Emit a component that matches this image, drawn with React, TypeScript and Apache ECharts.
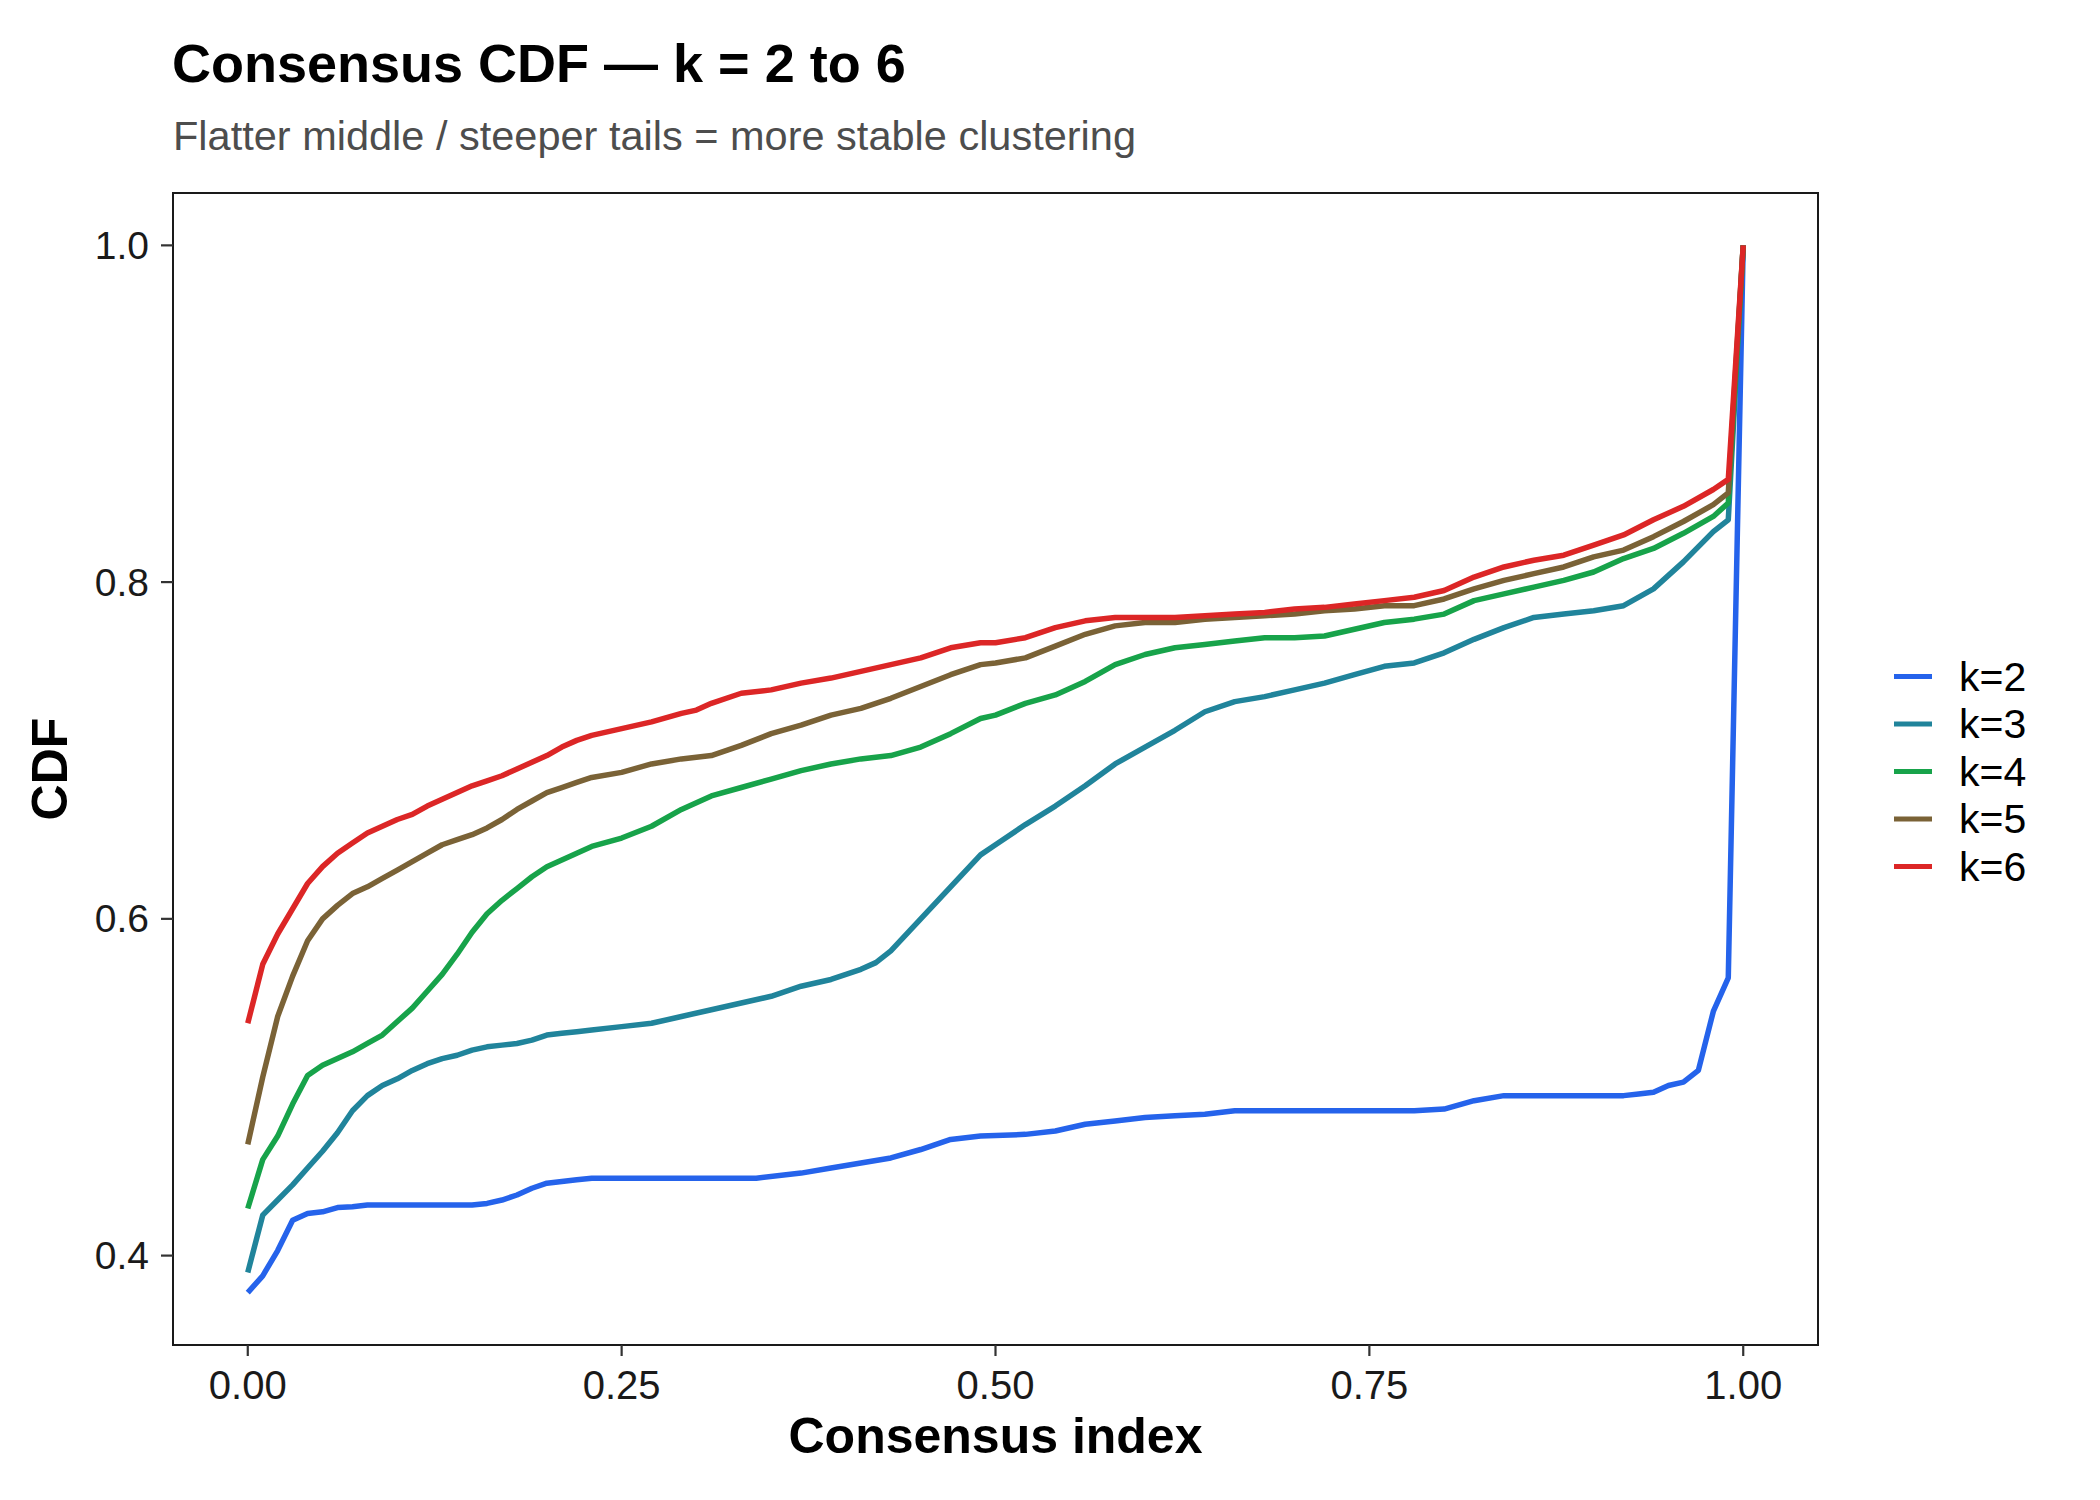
import React, { useEffect, useRef } from "react";
import * as echarts from "echarts";

// Consensus CDF values: [consensus index, CDF]
const k2: [number, number][] = [
  [0, 0.378], [0.01, 0.388], [0.02, 0.403], [0.03, 0.421], [0.04, 0.425], [0.05, 0.426],
  [0.06, 0.4285], [0.07, 0.429], [0.08, 0.43], [0.1, 0.43], [0.12, 0.43], [0.14, 0.43],
  [0.15, 0.43], [0.16, 0.431], [0.17, 0.433], [0.18, 0.436], [0.19, 0.44], [0.2, 0.443],
  [0.21, 0.444], [0.22, 0.445], [0.23, 0.446], [0.25, 0.446], [0.3, 0.446], [0.34, 0.446],
  [0.37, 0.449], [0.39, 0.452], [0.41, 0.455], [0.43, 0.458], [0.45, 0.463], [0.47, 0.469],
  [0.49, 0.471], [0.52, 0.472], [0.54, 0.474], [0.56, 0.478], [0.58, 0.48], [0.6, 0.482],
  [0.62, 0.483], [0.64, 0.484], [0.66, 0.486], [0.7, 0.486], [0.75, 0.486], [0.78, 0.486],
  [0.8, 0.487], [0.82, 0.492], [0.84, 0.495], [0.86, 0.495], [0.9, 0.495], [0.92, 0.495],
  [0.93, 0.496], [0.94, 0.497], [0.95, 0.501], [0.96, 0.503], [0.97, 0.51], [0.98, 0.545],
  [0.99, 0.565], [1.0, 1.0],
];

const k3: [number, number][] = [
  [0, 0.39], [0.01, 0.424], [0.02, 0.433], [0.03, 0.442], [0.04, 0.452], [0.05, 0.462],
  [0.06, 0.473], [0.07, 0.486], [0.08, 0.495], [0.09, 0.501], [0.1, 0.505], [0.11, 0.51],
  [0.12, 0.514], [0.13, 0.517], [0.14, 0.519], [0.15, 0.522], [0.16, 0.524], [0.17, 0.525],
  [0.18, 0.526], [0.19, 0.528], [0.2, 0.531], [0.21, 0.532], [0.22, 0.533], [0.23, 0.534],
  [0.25, 0.536], [0.27, 0.538], [0.29, 0.542], [0.31, 0.546], [0.33, 0.55], [0.35, 0.554],
  [0.37, 0.56], [0.39, 0.564], [0.41, 0.57], [0.42, 0.574], [0.43, 0.581], [0.45, 0.6],
  [0.47, 0.619], [0.49, 0.638], [0.5, 0.644], [0.52, 0.656], [0.54, 0.667], [0.56, 0.679],
  [0.58, 0.692], [0.6, 0.702], [0.62, 0.712], [0.64, 0.723], [0.66, 0.729], [0.68, 0.732],
  [0.7, 0.736], [0.72, 0.74], [0.74, 0.745], [0.76, 0.75], [0.78, 0.752], [0.8, 0.758],
  [0.82, 0.766], [0.84, 0.773], [0.86, 0.779], [0.88, 0.781], [0.9, 0.783], [0.92, 0.786],
  [0.94, 0.796], [0.96, 0.812], [0.98, 0.83], [0.99, 0.837], [1.0, 1.0],
];

const k4: [number, number][] = [
  [0, 0.428], [0.01, 0.457], [0.02, 0.471], [0.03, 0.49], [0.04, 0.507], [0.05, 0.513],
  [0.06, 0.517], [0.07, 0.521], [0.08, 0.526], [0.09, 0.531], [0.1, 0.539], [0.11, 0.547],
  [0.12, 0.557], [0.13, 0.567], [0.14, 0.579], [0.15, 0.592], [0.16, 0.603], [0.17, 0.611],
  [0.18, 0.618], [0.19, 0.625], [0.2, 0.631], [0.21, 0.635], [0.22, 0.639], [0.23, 0.643],
  [0.25, 0.648], [0.27, 0.655], [0.29, 0.665], [0.31, 0.673], [0.33, 0.678], [0.35, 0.683],
  [0.37, 0.688], [0.39, 0.692], [0.41, 0.695], [0.43, 0.697], [0.45, 0.702], [0.47, 0.71],
  [0.49, 0.719], [0.5, 0.721], [0.52, 0.728], [0.54, 0.733], [0.56, 0.741], [0.58, 0.751],
  [0.6, 0.757], [0.62, 0.761], [0.64, 0.763], [0.66, 0.765], [0.68, 0.767], [0.7, 0.767],
  [0.72, 0.768], [0.74, 0.772], [0.76, 0.776], [0.78, 0.778], [0.8, 0.781], [0.82, 0.789],
  [0.84, 0.793], [0.86, 0.797], [0.88, 0.801], [0.9, 0.806], [0.92, 0.814], [0.94, 0.82],
  [0.96, 0.829], [0.98, 0.839], [0.99, 0.847], [1.0, 1.0],
];

const k5: [number, number][] = [
  [0, 0.466], [0.01, 0.506], [0.02, 0.542], [0.03, 0.566], [0.04, 0.587], [0.05, 0.6],
  [0.06, 0.608], [0.07, 0.615], [0.08, 0.619], [0.09, 0.624], [0.1, 0.629], [0.11, 0.634],
  [0.12, 0.639], [0.13, 0.644], [0.14, 0.647], [0.15, 0.65], [0.16, 0.654], [0.17, 0.659],
  [0.18, 0.665], [0.19, 0.67], [0.2, 0.675], [0.21, 0.678], [0.22, 0.681], [0.23, 0.684],
  [0.25, 0.687], [0.27, 0.692], [0.29, 0.695], [0.31, 0.697], [0.33, 0.703], [0.35, 0.71],
  [0.37, 0.715], [0.39, 0.721], [0.41, 0.725], [0.43, 0.731], [0.45, 0.738], [0.47, 0.745],
  [0.49, 0.751], [0.5, 0.752], [0.52, 0.755], [0.54, 0.762], [0.56, 0.769], [0.58, 0.774],
  [0.6, 0.776], [0.62, 0.776], [0.64, 0.778], [0.66, 0.779], [0.68, 0.78], [0.7, 0.781],
  [0.72, 0.783], [0.74, 0.784], [0.76, 0.786], [0.78, 0.786], [0.8, 0.79], [0.82, 0.796],
  [0.84, 0.801], [0.86, 0.805], [0.88, 0.809], [0.9, 0.815], [0.92, 0.819], [0.94, 0.827],
  [0.96, 0.836], [0.98, 0.846], [0.99, 0.853], [1.0, 1.0],
];

const k6: [number, number][] = [
  [0, 0.538], [0.01, 0.573], [0.02, 0.591], [0.03, 0.606], [0.04, 0.621], [0.05, 0.631],
  [0.06, 0.639], [0.07, 0.645], [0.08, 0.651], [0.09, 0.655], [0.1, 0.659], [0.11, 0.662],
  [0.12, 0.667], [0.13, 0.671], [0.14, 0.675], [0.15, 0.679], [0.16, 0.682], [0.17, 0.685],
  [0.18, 0.689], [0.19, 0.693], [0.2, 0.697], [0.21, 0.702], [0.22, 0.706], [0.23, 0.709],
  [0.25, 0.713], [0.27, 0.717], [0.29, 0.722], [0.3, 0.724], [0.31, 0.728], [0.33, 0.734],
  [0.35, 0.736], [0.37, 0.74], [0.39, 0.743], [0.41, 0.747], [0.43, 0.751], [0.45, 0.755],
  [0.47, 0.761], [0.49, 0.764], [0.5, 0.764], [0.52, 0.767], [0.54, 0.773], [0.56, 0.777],
  [0.58, 0.779], [0.6, 0.779], [0.62, 0.779], [0.64, 0.78], [0.66, 0.781], [0.68, 0.782],
  [0.7, 0.784], [0.72, 0.785], [0.74, 0.787], [0.76, 0.789], [0.78, 0.791], [0.8, 0.795],
  [0.82, 0.803], [0.84, 0.809], [0.86, 0.813], [0.88, 0.816], [0.9, 0.822], [0.92, 0.828],
  [0.94, 0.837], [0.96, 0.845], [0.98, 0.855], [0.99, 0.861], [1.0, 1.0],
];

const seriesNames = ["k=2", "k=3", "k=4", "k=5", "k=6"];
const seriesData = [k2, k3, k4, k5, k6];
const seriesColors = ["#2563EB", "#20849B", "#17A34A", "#7A6236", "#DC2626"];
const xTicks = [0, 0.25, 0.5, 0.75, 1.0];
const yTicks = [0.4, 0.6, 0.8, 1.0];

const X_MIN = -0.05;
const X_MAX = 1.05;
const Y_MIN = 0.3469;
const Y_MAX = 1.0311;

const FONT = "'Liberation Sans', Arial, Helvetica, sans-serif";
const TICK_LEN = 12;
const TICK_COLOR = "#333333";

export default function App() {
  const ref = useRef<HTMLDivElement>(null);

  useEffect(() => {
    document.body.style.margin = "0";
    if (!ref.current) return;
    const chart = echarts.init(ref.current, undefined, { renderer: "svg" });

    chart.setOption({
      animation: false,
      backgroundColor: "#ffffff",
      textStyle: { fontFamily: FONT },
      title: [
        {
          text: "Consensus CDF — k = 2 to 6",
          left: 167,
          top: 31,
          textStyle: { fontFamily: FONT, fontSize: 54, fontWeight: "bold", color: "#000000" },
        },
        {
          text: "Flatter middle / steeper tails = more stable clustering",
          left: 168,
          top: 109,
          textStyle: { fontFamily: FONT, fontSize: 41.5, fontWeight: "normal", color: "#4D4D4D" },
        },
      ],
      legend: {
        orient: "vertical",
        left: 1889,
        top: 651,
        icon: "rect",
        itemWidth: 38,
        itemHeight: 5,
        itemGap: 6.5,
        data: seriesNames,
        textStyle: {
          fontFamily: FONT,
          fontSize: 41,
          lineHeight: 40,
          color: "#000000",
          padding: [0, 0, 0, 22],
        },
      },
      grid: {
        left: 173,
        right: 282,
        top: 193,
        bottom: 155,
        show: true,
        borderColor: "#1a1a1a",
        borderWidth: 2,
        backgroundColor: "transparent",
      },
      xAxis: {
        type: "value",
        min: X_MIN,
        max: X_MAX,
        name: "Consensus index",
        nameLocation: "middle",
        nameGap: 66,
        nameTextStyle: { fontFamily: FONT, fontSize: 50, fontWeight: "bold", color: "#000000" },
        axisLine: { show: true, onZero: false, lineStyle: { color: "#1a1a1a", width: 2 } },
        splitLine: { show: false },
        axisTick: { show: false },
        axisLabel: {
          customValues: xTicks,
          margin: 20,
          fontFamily: FONT,
          fontSize: 40,
          color: "#1a1a1a",
          formatter: (v: number) => v.toFixed(2),
        },
      },
      yAxis: {
        type: "value",
        min: Y_MIN,
        max: Y_MAX,
        name: "CDF",
        nameLocation: "middle",
        nameRotate: 90,
        nameGap: 98,
        nameTextStyle: { fontFamily: FONT, fontSize: 50, fontWeight: "bold", color: "#000000" },
        axisLine: { show: true, onZero: false, lineStyle: { color: "#1a1a1a", width: 2 } },
        splitLine: { show: false },
        axisTick: { show: false },
        axisLabel: {
          customValues: yTicks,
          margin: 24,
          fontFamily: FONT,
          fontSize: 39,
          color: "#1a1a1a",
          formatter: (v: number) => v.toFixed(1),
        },
      },
      series: seriesNames.map((name, i) => ({
        name,
        type: "line",
        data: seriesData[i],
        showSymbol: false,
        symbol: "none",
        color: seriesColors[i],
        lineStyle: { width: 5.5, color: seriesColors[i], join: "round" },
        z: 2 + i,
      })),
    });

    // Tick marks placed through the chart's own axis scales
    const leftX = chart.convertToPixel({ xAxisIndex: 0 }, X_MIN) as number;
    const bottomY = chart.convertToPixel({ yAxisIndex: 0 }, Y_MIN) as number;
    const tickLines: any[] = [];
    yTicks.forEach((v) => {
      const py = chart.convertToPixel({ yAxisIndex: 0 }, v) as number;
      tickLines.push({
        type: "line",
        z: 100,
        silent: true,
        shape: { x1: leftX - TICK_LEN, y1: py, x2: leftX, y2: py },
        style: { stroke: TICK_COLOR, lineWidth: 2.2 },
      });
    });
    xTicks.forEach((v) => {
      const px = chart.convertToPixel({ xAxisIndex: 0 }, v) as number;
      tickLines.push({
        type: "line",
        z: 100,
        silent: true,
        shape: { x1: px, y1: bottomY, x2: px, y2: bottomY + TICK_LEN - 1 },
        style: { stroke: TICK_COLOR, lineWidth: 2.2 },
      });
    });
    chart.setOption({ graphic: tickLines });

    return () => chart.dispose();
  }, []);

  return (
    <div
      ref={ref}
      style={{ position: "absolute", left: 0, top: 0, width: 2100, height: 1500 }}
    />
  );
}
